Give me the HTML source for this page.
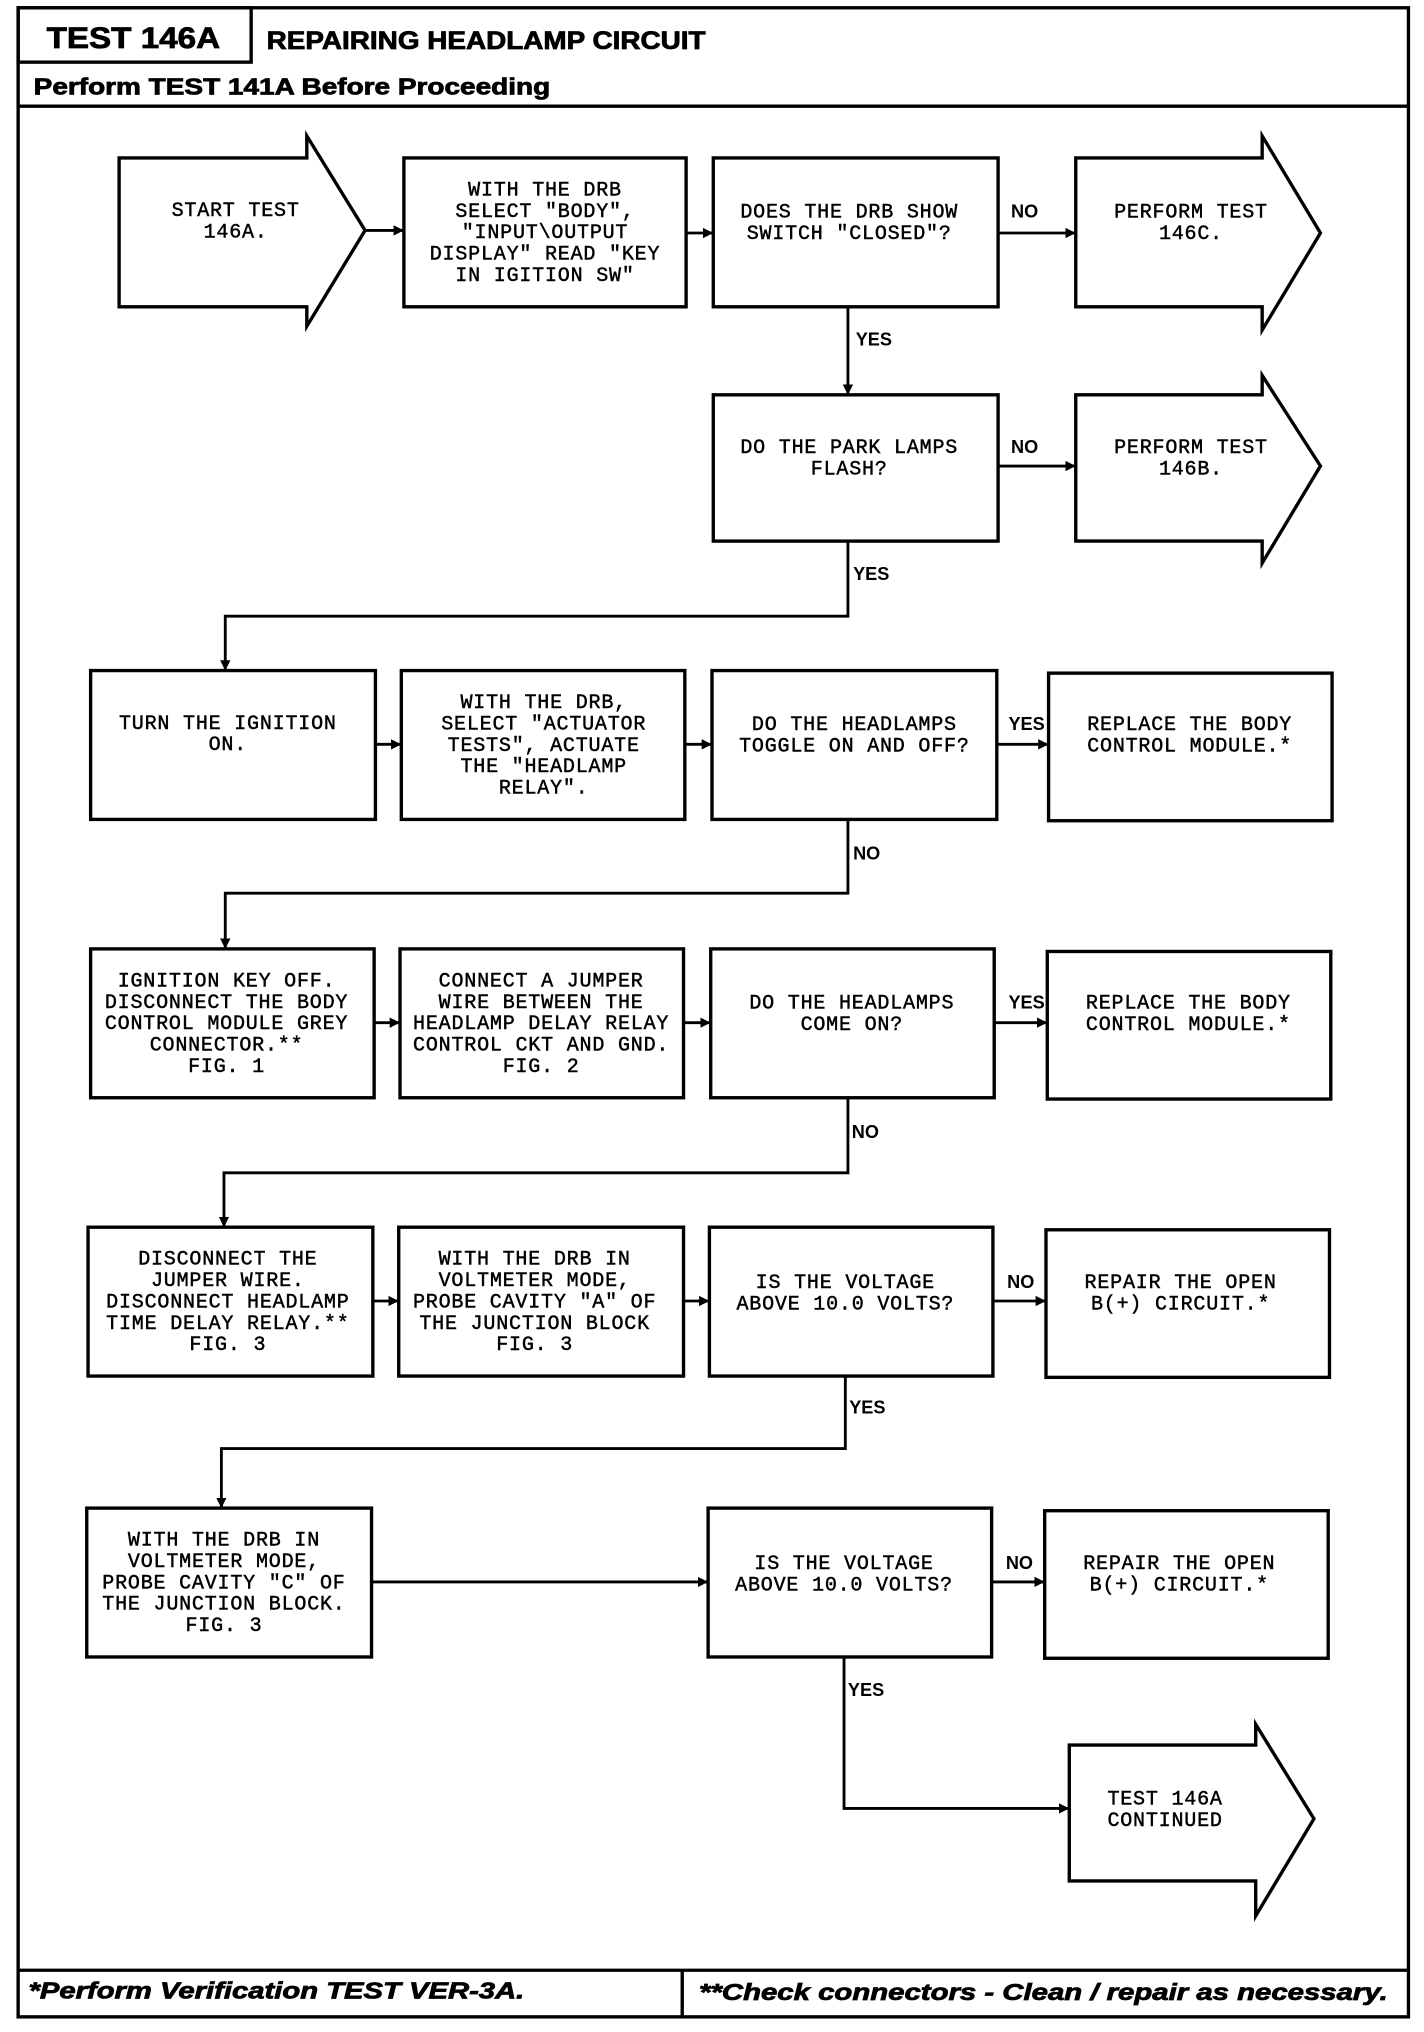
<!DOCTYPE html>
<html><head><meta charset="utf-8"><style>
html,body{margin:0;padding:0;background:#fff;}
svg{display:block;}
.m{font-family:"Liberation Mono",monospace;font-size:15.5px;letter-spacing:0.6px;fill:#000;text-anchor:middle;stroke:#000;stroke-width:0.35;}
.l{font-family:"Liberation Sans",sans-serif;font-weight:bold;font-size:14px;fill:#000;}
.h{font-family:"Liberation Sans",sans-serif;font-weight:bold;fill:#000;stroke:#000;stroke-width:0.6;}
</style></head><body>
<svg width="1424" height="2032" viewBox="0 0 1100 1569.7" xmlns="http://www.w3.org/2000/svg">
<defs><marker id="a" markerWidth="8" markerHeight="8" refX="7" refY="4" orient="auto" markerUnits="userSpaceOnUse"><path d="M0,0 L8,4 L0,8 z" fill="#000"/></marker></defs>
<g fill="none" stroke="#000" stroke-width="2.6">
<rect x="14" y="6" width="1074" height="1552"/>
<rect x="14" y="6" width="180" height="42"/>
<line x1="14" y1="82" x2="1088" y2="82"/>
<line x1="14" y1="1522" x2="1088" y2="1522"/>
<line x1="527" y1="1522" x2="527" y2="1558"/>
<path d="M92,122 H237 V105 L282,178 L237,252 V237 H92 Z"/>
<rect x="312" y="122" width="218" height="115"/>
<rect x="551" y="122" width="220" height="115"/>
<path d="M831,122 H975 V105 L1020,180 L975,255 V237 H831 Z"/>
<rect x="551" y="305" width="220" height="113"/>
<path d="M831,305 H975 V290 L1020,360 L975,435 V418 H831 Z"/>
<rect x="70" y="518" width="220" height="115"/>
<rect x="310" y="518" width="219" height="115"/>
<rect x="550" y="518" width="220" height="115"/>
<rect x="810" y="520" width="219" height="114"/>
<rect x="70" y="733" width="219" height="115"/>
<rect x="309" y="733" width="219" height="115"/>
<rect x="549" y="733" width="219" height="115"/>
<rect x="809" y="735" width="219" height="114"/>
<rect x="68" y="948" width="220" height="115"/>
<rect x="308" y="948" width="220" height="115"/>
<rect x="548" y="948" width="219" height="115"/>
<rect x="808" y="950" width="219" height="114"/>
<rect x="67" y="1165" width="220" height="115"/>
<rect x="547" y="1165" width="219" height="115"/>
<rect x="807" y="1167" width="219" height="114"/>
<path d="M826,1348 H970 V1332 L1015,1405 L970,1480 V1453 H826 Z"/>
</g>
<g fill="none" stroke="#000" stroke-width="2.2" marker-end="url(#a)">
<line x1="282" y1="178" x2="311" y2="178"/>
<line x1="530" y1="180" x2="550" y2="180"/>
<line x1="771" y1="180" x2="830" y2="180"/>
<line x1="655" y1="237" x2="655" y2="304"/>
<line x1="771" y1="360" x2="830" y2="360"/>
<polyline points="655,418 655,476 174,476 174,517"/>
<line x1="290" y1="575" x2="309" y2="575"/>
<line x1="529" y1="575" x2="549" y2="575"/>
<line x1="770" y1="575" x2="809" y2="575"/>
<polyline points="655,633 655,690 174,690 174,732"/>
<line x1="289" y1="790" x2="308" y2="790"/>
<line x1="528" y1="790" x2="548" y2="790"/>
<line x1="768" y1="790" x2="808" y2="790"/>
<polyline points="655,848 655,906 173,906 173,947"/>
<line x1="288" y1="1005" x2="307" y2="1005"/>
<line x1="528" y1="1005" x2="547" y2="1005"/>
<line x1="767" y1="1005" x2="807" y2="1005"/>
<polyline points="653,1063 653,1119 171,1119 171,1164"/>
<line x1="287" y1="1222" x2="546" y2="1222"/>
<line x1="766" y1="1222" x2="806" y2="1222"/>
<polyline points="652,1280 652,1397 825,1397"/>
</g>
<text class="h" x="36" y="37" font-size="23" textLength="134" lengthAdjust="spacingAndGlyphs">TEST 146A</text>
<text class="h" x="206" y="38" font-size="19" textLength="339" lengthAdjust="spacingAndGlyphs">REPAIRING HEADLAMP CIRCUIT</text>
<text class="h" x="26" y="73" font-size="18" textLength="399" lengthAdjust="spacingAndGlyphs">Perform TEST 141A Before Proceeding</text>
<text class="h" x="22" y="1544" font-size="18" font-style="italic" textLength="383" lengthAdjust="spacingAndGlyphs">*Perform Verification TEST VER-3A.</text>
<text class="h" x="540" y="1545" font-size="18" font-style="italic" textLength="532" lengthAdjust="spacingAndGlyphs">**Check connectors - Clean / repair as necessary.</text>
<g class="l">
<text x="781" y="168">NO</text>
<text x="661" y="267">YES</text>
<text x="781" y="350">NO</text>
<text x="659" y="448">YES</text>
<text x="779" y="564">YES</text>
<text x="659" y="664">NO</text>
<text x="779" y="779">YES</text>
<text x="658" y="879">NO</text>
<text x="778" y="995">NO</text>
<text x="656" y="1092">YES</text>
<text x="777" y="1212">NO</text>
<text x="655" y="1310">YES</text>
</g>
<g class="m">
<text y="167"><tspan x="182">START TEST</tspan><tspan x="182" dy="16.5">146A.</tspan></text>
<text y="151"><tspan x="421">WITH THE DRB</tspan><tspan x="421" dy="16.5">SELECT "BODY",</tspan><tspan x="421" dy="16.5">"INPUT\OUTPUT</tspan><tspan x="421" dy="16.5">DISPLAY" READ "KEY</tspan><tspan x="421" dy="16.5">IN IGITION SW"</tspan></text>
<text y="168"><tspan x="656">DOES THE DRB SHOW</tspan><tspan x="656" dy="16.5">SWITCH "CLOSED"?</tspan></text>
<text y="168"><tspan x="920">PERFORM TEST</tspan><tspan x="920" dy="16.5">146C.</tspan></text>
<text y="350"><tspan x="656">DO THE PARK LAMPS</tspan><tspan x="656" dy="16.5">FLASH?</tspan></text>
<text y="350"><tspan x="920">PERFORM TEST</tspan><tspan x="920" dy="16.5">146B.</tspan></text>
<text y="563"><tspan x="176">TURN THE IGNITION</tspan><tspan x="176" dy="16.5">ON.</tspan></text>
<text y="547"><tspan x="420">WITH THE DRB,</tspan><tspan x="420" dy="16.5">SELECT "ACTUATOR</tspan><tspan x="420" dy="16.5">TESTS", ACTUATE</tspan><tspan x="420" dy="16.5">THE "HEADLAMP</tspan><tspan x="420" dy="16.5">RELAY".</tspan></text>
<text y="564"><tspan x="660">DO THE HEADLAMPS</tspan><tspan x="660" dy="16.5">TOGGLE ON AND OFF?</tspan></text>
<text y="564"><tspan x="919">REPLACE THE BODY</tspan><tspan x="919" dy="16.5">CONTROL MODULE.*</tspan></text>
<text y="762"><tspan x="175">IGNITION KEY OFF.</tspan><tspan x="175" dy="16.5">DISCONNECT THE BODY</tspan><tspan x="175" dy="16.5">CONTROL MODULE GREY</tspan><tspan x="175" dy="16.5">CONNECTOR.**</tspan><tspan x="175" dy="16.5">FIG. 1</tspan></text>
<text y="762"><tspan x="418">CONNECT A JUMPER</tspan><tspan x="418" dy="16.5">WIRE BETWEEN THE</tspan><tspan x="418" dy="16.5">HEADLAMP DELAY RELAY</tspan><tspan x="418" dy="16.5">CONTROL CKT AND GND.</tspan><tspan x="418" dy="16.5">FIG. 2</tspan></text>
<text y="779"><tspan x="658">DO THE HEADLAMPS</tspan><tspan x="658" dy="16.5">COME ON?</tspan></text>
<text y="779"><tspan x="918">REPLACE THE BODY</tspan><tspan x="918" dy="16.5">CONTROL MODULE.*</tspan></text>
<text y="977"><tspan x="176">DISCONNECT THE</tspan><tspan x="176" dy="16.5">JUMPER WIRE.</tspan><tspan x="176" dy="16.5">DISCONNECT HEADLAMP</tspan><tspan x="176" dy="16.5">TIME DELAY RELAY.**</tspan><tspan x="176" dy="16.5">FIG. 3</tspan></text>
<text y="977"><tspan x="413">WITH THE DRB IN</tspan><tspan x="413" dy="16.5">VOLTMETER MODE,</tspan><tspan x="413" dy="16.5">PROBE CAVITY "A" OF</tspan><tspan x="413" dy="16.5">THE JUNCTION BLOCK</tspan><tspan x="413" dy="16.5">FIG. 3</tspan></text>
<text y="995"><tspan x="653">IS THE VOLTAGE</tspan><tspan x="653" dy="16.5">ABOVE 10.0 VOLTS?</tspan></text>
<text y="995"><tspan x="912">REPAIR THE OPEN</tspan><tspan x="912" dy="16.5">B(+) CIRCUIT.*</tspan></text>
<text y="1194"><tspan x="173">WITH THE DRB IN</tspan><tspan x="173" dy="16.5">VOLTMETER MODE,</tspan><tspan x="173" dy="16.5">PROBE CAVITY "C" OF</tspan><tspan x="173" dy="16.5">THE JUNCTION BLOCK.</tspan><tspan x="173" dy="16.5">FIG. 3</tspan></text>
<text y="1212"><tspan x="652">IS THE VOLTAGE</tspan><tspan x="652" dy="16.5">ABOVE 10.0 VOLTS?</tspan></text>
<text y="1212"><tspan x="911">REPAIR THE OPEN</tspan><tspan x="911" dy="16.5">B(+) CIRCUIT.*</tspan></text>
<text y="1394"><tspan x="900">TEST 146A</tspan><tspan x="900" dy="16.5">CONTINUED</tspan></text>
</g>
</svg>
</body></html>
